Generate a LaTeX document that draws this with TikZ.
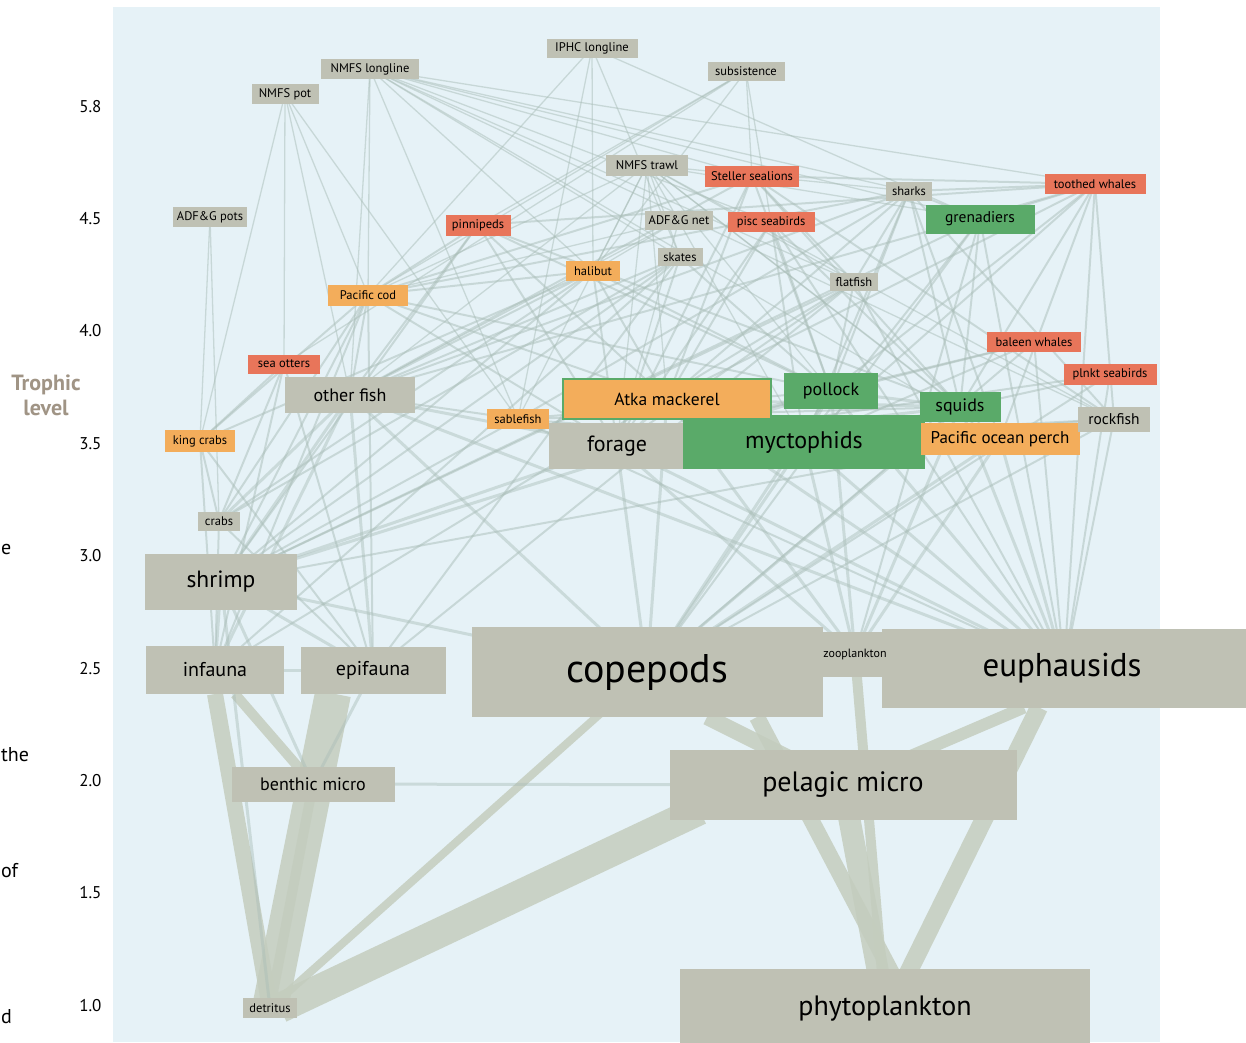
\documentclass[tikz,border=0pt]{standalone}
\usepackage{fontspec}
\setmainfont{PT Sans}
\usetikzlibrary{calc,backgrounds}
\definecolor{cPanel}{RGB}{230,242,247}
\definecolor{cGray}{RGB}{191,193,180}
\definecolor{cOrange}{RGB}{243,173,91}
\definecolor{cRed}{RGB}{232,117,90}
\definecolor{cGreen}{RGB}{90,170,105}
\definecolor{cLine}{RGB}{170,190,184}
\definecolor{cBand}{RGB}{196,205,190}
\definecolor{cTroph}{RGB}{160,148,133}
\newcommand\myfz[1]{\fontsize{#1}{#1}\selectfont}
\pgfdeclarelayer{back}
\pgfdeclarelayer{edges}
\pgfsetlayers{back,edges,main}
\tikzset{
  box/.style={rectangle, inner sep=0pt, outer sep=0pt, text=black, align=center},
  gb/.style={box, fill=cGray},
  ob/.style={box, fill=cOrange},
  rb/.style={box, fill=cRed},
  nb/.style={box, fill=cGreen},
  fS/.style={font=\myfz{12.5}},
  fedge/.style={draw=cLine, line width=1.3pt, draw opacity=0.5},
  pedge/.style={draw=cLine, line width=2pt, draw opacity=0.5},
  ledge/.style={draw=cLine, line width=3pt, draw opacity=0.45},
  band/.style={draw=cBand, draw opacity=0.85},
  axisnum/.style={font=\myfz{17}, anchor=east, text=black},
  frag/.style={font=\myfz{20}, text=black, inner sep=0pt}
}
\begin{document}
\begin{tikzpicture}[x=1pt,y=-1pt]
\useasboundingbox (0,0) rectangle (1246,1042);
\begin{pgfonlayer}{back}
\fill[white] (0,0) rectangle (1246,1042);
\fill[cPanel] (113,7) rectangle (1160,1042);
\end{pgfonlayer}

% axis
\node[axisnum] (t58) at (105,107) {5.8};
\node[axisnum] (t45) at (105,219) {4.5};
\node[axisnum] (t40) at (105,331) {4.0};
\node[axisnum] (t35) at (105,444) {3.5};
\node[axisnum] (t30) at (105,556) {3.0};
\node[axisnum] (t25) at (105,669) {2.5};
\node[axisnum] (t20) at (105,781) {2.0};
\node[axisnum] (t15) at (105,893) {1.5};
\node[axisnum] (t10) at (105,1006) {1.0};
\node[font=\bfseries\fontsize{22}{25}\selectfont, text=cTroph, align=center] (troph) at (46,395) {Trophic\\level};
\node[frag, anchor=west] (fr1) at (1,549) {e};
\node[frag, anchor=west] (fr2) at (1,755) {the};
\node[frag, anchor=west] (fr3) at (1,871) {of};
\node[frag, anchor=west] (fr4) at (1,1017) {d};

% nodes
\node[gb,minimum width=98,minimum height=20,fS] (nmfsll) at (370,69) {NMFS longline};
\node[gb,minimum width=67,minimum height=20,fS] (nmfspot) at (285,94) {NMFS pot};
\node[gb,minimum width=91,minimum height=19,fS] (iphc) at (592,48) {IPHC longline};
\node[gb,minimum width=77,minimum height=19,fS] (subs) at (746,71) {subsistence};
\node[gb,minimum width=82,minimum height=21,fS] (nmfstrawl) at (647,165) {NMFS trawl};
\node[rb,minimum width=94,minimum height=21,fS] (steller) at (752,176) {Steller sealions};
\node[gb,minimum width=46,minimum height=19,fS] (sharks) at (909,191) {sharks};
\node[rb,minimum width=101,minimum height=20,fS] (toothed) at (1095,184) {toothed whales};
\node[gb,minimum width=74,minimum height=20,fS] (adfgpots) at (210,217) {ADF\&G pots};
\node[rb,minimum width=65,minimum height=21,fS] (pinn) at (478,225) {pinnipeds};
\node[gb,minimum width=68,minimum height=19,fS] (adfgnet) at (679,220) {ADF\&G net};
\node[rb,minimum width=87,minimum height=20,fS] (pisc) at (771,222) {pisc seabirds};
\node[nb,minimum width=109,minimum height=29,font=\myfz{15.5}] (gren) at (980,219) {grenadiers};
\node[gb,minimum width=45,minimum height=18,fS] (skates) at (680,257) {skates};
\node[ob,minimum width=54,minimum height=20,fS] (halibut) at (593,271) {halibut};
\node[gb,minimum width=48,minimum height=18,fS] (flatfish) at (854,282) {flatfish};
\node[ob,minimum width=80,minimum height=21,fS] (pcod) at (368,295) {Pacific cod};
\node[rb,minimum width=94,minimum height=20,fS] (baleen) at (1034,342) {baleen whales};
\node[rb,minimum width=72,minimum height=19,fS] (otters) at (284,364) {sea otters};
\node[rb,minimum width=93,minimum height=21,fS] (plnkt) at (1110,374) {plnkt seabirds};
\node[gb,minimum width=130,minimum height=36,font=\myfz{18}] (otherfish) at (350,395) {other fish};
\node[gb,minimum width=137,minimum height=46,font=\myfz{22}] (forage) at (617,446) {forage};
\node[nb,minimum width=242,minimum height=54,font=\myfz{24}] (myct) at (804,442) {myctophids};
\node[ob,draw=cGreen,line width=2pt,minimum width=208,minimum height=40,font=\myfz{17.5}] (atka) at (667,399) {Atka mackerel};
\node[nb,minimum width=94,minimum height=36,font=\myfz{18}] (pollock) at (831,391) {pollock};
\node[nb,minimum width=81,minimum height=30,font=\myfz{18}] (squids) at (960,407) {squids};
\node[ob,minimum width=159,minimum height=32,font=\myfz{17}] (pop) at (1000,439) {Pacific ocean perch};
\node[gb,minimum width=72,minimum height=25,font=\myfz{15.5}] (rockfish) at (1114,419) {rockfish};
\node[ob,minimum width=62,minimum height=20,fS] (sablefish) at (518,419) {sablefish};
\node[ob,minimum width=70,minimum height=22,fS] (king) at (200,441) {king crabs};
\node[gb,minimum width=42,minimum height=19,fS] (crabs) at (219,521) {crabs};
\node[gb,minimum width=152,minimum height=56,font=\myfz{23.5}] (shrimp) at (221,582) {shrimp};
\node[gb,minimum width=138,minimum height=48,font=\myfz{20}] (infauna) at (215,670) {infauna};
\node[gb,minimum width=145,minimum height=47,font=\myfz{20}] (epifauna) at (373,670) {epifauna};
\node[gb,minimum width=351,minimum height=90,font=\myfz{40}] (copepods) at (647,672) {copepods};
\node[gb,minimum width=364,minimum height=79,font=\myfz{33}] (euph) at (1064,668) {\hspace*{-4pt}euphausids};
\node[gb,minimum width=174,minimum height=45,font=\myfz{12}] (zoo) at (855,654) {zooplankton};
\node[gb,minimum width=163,minimum height=35,font=\myfz{18}] (benthic) at (313,784) {benthic micro};
\node[gb,minimum width=347,minimum height=70,font=\myfz{28}] (pelagic) at (843,785) {pelagic micro};
\node[gb,minimum width=54,minimum height=20,fS] (detritus) at (270,1008) {detritus};
\node[gb,minimum width=410,minimum height=80,font=\myfz{28}] (phyto) at (885,1009) {phytoplankton};

\begin{pgfonlayer}{edges}
% thick flows
\draw[band, line width=36pt] (detritus.center) -- ($(epifauna.south)+(-40,0)$);
\draw[band, line width=16pt] (detritus.center) -- ($(infauna.south)+(0,0)$);
\draw[band, line width=10pt] (detritus.center) -- (benthic.center);
\draw[band, line width=30pt] ($(detritus.center)+(10,0)$) -- ($(pelagic.south west)+(30,-10)$);
\draw[band, line width=10pt] ($(infauna.south)+(20,0)$) -- (benthic.center);
\draw[band, line width=8pt] (detritus.center) -- (copepods.center);
\draw[band, line width=22pt] (phyto.center) -- (pelagic.center);
\draw[band, line width=18pt] ($(phyto.north)+(20,10)$) -- ($(euph.south)+(-25,0)$);
\draw[band, line width=16pt] ($(phyto.north)+(10,10)$) -- ($(copepods.south)+(110,0)$);
\draw[band, line width=10pt] (phyto.center) -- (zoo.center);
\draw[band, line width=16pt] (pelagic.center) -- ($(copepods.south)+(60,0)$);
\draw[band, line width=12pt] (pelagic.center) -- ($(euph.south)+(-40,0)$);
% fisheries
\foreach \s/\t in {nmfsll/pcod, nmfsll/halibut, nmfsll/sablefish, nmfsll/gren, nmfsll/sharks, nmfsll/skates, nmfsll/flatfish, nmfsll/rockfish, nmfsll/otherfish, nmfsll/pisc, nmfsll/toothed, nmfsll/pop, nmfsll/steller,
 nmfspot/pcod, nmfspot/otherfish, nmfspot/king, nmfspot/sablefish, nmfspot/otters,
 iphc/halibut, iphc/sablefish, iphc/pcod, iphc/skates, iphc/gren,
 subs/steller, subs/pinn, subs/halibut, subs/pcod, subs/otters, subs/pisc,
 nmfstrawl/pollock, nmfstrawl/atka, nmfstrawl/pcod, nmfstrawl/flatfish, nmfstrawl/rockfish, nmfstrawl/pop, nmfstrawl/halibut, nmfstrawl/skates, nmfstrawl/sablefish, nmfstrawl/otherfish, nmfstrawl/forage, nmfstrawl/sharks, nmfstrawl/gren, nmfstrawl/squids, nmfstrawl/myct,
 adfgpots/king, adfgpots/crabs,
 adfgnet/forage, adfgnet/otherfish, adfgnet/pcod, adfgnet/halibut}
  \draw[fedge] (\s.center) -- (\t.center);
% predators
\foreach \s/\t in {toothed/steller, toothed/pinn, toothed/sharks, toothed/squids, toothed/gren, toothed/pollock, toothed/atka, toothed/rockfish, toothed/pop, toothed/otherfish, toothed/myct, toothed/euph,
 steller/pollock, steller/atka, steller/pcod, steller/squids, steller/forage, steller/otherfish, steller/flatfish, steller/rockfish,
 pinn/pollock, pinn/forage, pinn/otherfish, pinn/squids, pinn/atka, pinn/pcod, pinn/shrimp,
 pisc/forage, pisc/myct, pisc/pollock, pisc/squids, pisc/atka, pisc/euph,
 sharks/pollock, sharks/squids, sharks/gren, sharks/myct, sharks/atka, sharks/otherfish, sharks/flatfish, sharks/rockfish, sharks/pcod, sharks/pop, sharks/sablefish,
 gren/myct, gren/squids, gren/shrimp, gren/euph, gren/copepods, gren/zoo,
 skates/shrimp, skates/epifauna, skates/pollock, skates/forage, skates/otherfish, skates/infauna, skates/crabs,
 halibut/pollock, halibut/pcod, halibut/otherfish, halibut/shrimp, halibut/crabs, halibut/king, halibut/atka, halibut/forage,
 flatfish/infauna, flatfish/epifauna, flatfish/shrimp, flatfish/forage, flatfish/pollock, flatfish/euph,
 pcod/pollock, pcod/otherfish, pcod/shrimp, pcod/crabs, pcod/king, pcod/forage, pcod/atka, pcod/epifauna, pcod/infauna,
 baleen/euph, baleen/copepods, baleen/forage, baleen/myct, baleen/pollock,
 otters/crabs, otters/king, otters/epifauna, otters/infauna,
 plnkt/euph, plnkt/copepods, plnkt/myct, plnkt/forage,
 sablefish/squids, sablefish/myct, sablefish/pollock, sablefish/forage, sablefish/shrimp, sablefish/otherfish, sablefish/euph,
 rockfish/euph, rockfish/copepods, rockfish/myct, rockfish/forage, rockfish/shrimp,
 king/infauna, king/epifauna, king/crabs,
 crabs/infauna, crabs/epifauna}
  \draw[pedge] (\s.center) -- (\t.center);
% lower levels
\foreach \s/\t in {otherfish/shrimp, otherfish/infauna, otherfish/epifauna, otherfish/crabs, otherfish/copepods, otherfish/euph, otherfish/forage,
 atka/copepods, atka/euph, atka/myct, atka/forage, atka/zoo, atka/squids,
 pollock/copepods, pollock/euph, pollock/myct, pollock/forage, pollock/squids, pollock/zoo, pollock/shrimp,
 squids/myct, squids/forage, squids/euph, squids/copepods, squids/zoo,
 forage/copepods, forage/euph, forage/zoo, forage/shrimp,
 myct/copepods, myct/euph, myct/zoo,
 pop/euph, pop/copepods, pop/myct, pop/zoo,
 shrimp/infauna, shrimp/epifauna, shrimp/detritus, shrimp/benthic, shrimp/copepods,
 infauna/epifauna, epifauna/benthic, benthic/pelagic, copepods/zoo, zoo/euph}
  \draw[ledge] (\s.center) -- (\t.center);
\end{pgfonlayer}
\end{tikzpicture}
\end{document}
